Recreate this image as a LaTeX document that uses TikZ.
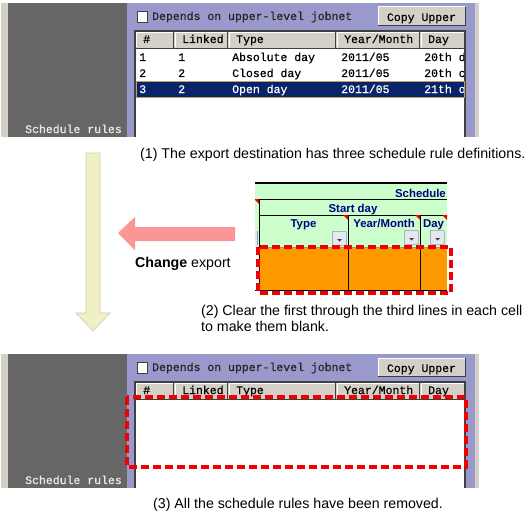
\documentclass[tikz,border=0pt]{standalone}
\usepackage{fontspec}
\setmainfont{Liberation Sans}
\newfontfamily\screenmono[FakeBold=0.6]{Liberation Mono}
\definecolor{panelgrey}{RGB}{102,102,102}
\definecolor{edgegrey}{RGB}{212,208,200}
\definecolor{panellilac}{RGB}{153,153,204}
\definecolor{headgrey}{RGB}{212,208,200}
\definecolor{shadowgrey}{RGB}{64,64,64}
\definecolor{selectnavy}{RGB}{10,36,106}
\definecolor{focusgold}{RGB}{190,160,100}
\definecolor{labelgrey}{RGB}{232,232,232}
\definecolor{sheetgreen}{RGB}{204,255,204}
\definecolor{sheetorange}{RGB}{255,153,0}
\definecolor{sheetblue}{RGB}{0,0,128}
\definecolor{buttonfill}{RGB}{228,232,240}
\definecolor{buttonedge}{RGB}{140,150,170}
\definecolor{markred}{RGB}{240,0,0}
\definecolor{exportpink}{RGB}{250,150,150}
\definecolor{flowyellow}{RGB}{240,240,196}
\definecolor{flowedge}{RGB}{205,205,180}

\begin{document}
\begin{tikzpicture}[
    x=1pt,
    y=-1pt,
    screen text/.style={
      font=\screenmono\fontsize{11.5}{13}\selectfont,
      anchor=base west,
      inner sep=0pt
    },
    caption text/.style={
      font=\fontsize{14.2}{16}\selectfont,
      anchor=base west,
      inner sep=0pt
    },
    sheet head/.style={
      font=\bfseries\fontsize{11.4}{13}\selectfont,
      text=sheetblue,
      anchor=base,
      inner sep=0pt
    },
    raised button/.style={
      rectangle,
      fill=headgrey,
      inner sep=0pt,
      minimum width=87pt,
      minimum height=18pt,
      anchor=north west
    },
    drop button/.style={
      rectangle,
      rounded corners=1pt,
      fill=buttonfill,
      draw=buttonedge,
      line width=0.6pt,
      inner sep=0pt,
      minimum width=14pt,
      minimum height=14pt,
      anchor=north west
    },
    red frame/.style={
      draw=markred,
      line width=3.5pt,
      dash pattern=on 8pt off 4pt
    }
]
\useasboundingbox (0,0) rectangle (529,516);
\fill[white] (0,0) rectangle (529,516);

% The two dialog captures share the same frame, header and controls.
\foreach \oy in {0,351}{
  \fill[edgegrey] (1,3+\oy) rectangle (479,137+\oy);
  \fill[panelgrey] (8,3+\oy) rectangle (127,137+\oy);
  \fill[panellilac] (127,3+\oy) rectangle (475,137+\oy);
  \node[screen text,text=labelgrey] (rules\oy) at (25,133+\oy) {Schedule rules};

  \draw[fill=white,draw=shadowgrey,line width=0.8pt]
    (137,11+\oy) rectangle (147,22+\oy);
  \node[screen text,text=black!85] (depends\oy) at (152,20+\oy)
    {Depends on upper-level jobnet};

  \node[raised button] (copy\oy) at (378,7+\oy) {};
  \draw[white,line width=1pt] (copy\oy.south west) |- (copy\oy.north east);
  \draw[shadowgrey,line width=1pt] (copy\oy.south west) -| (copy\oy.north east);
  \node[screen text,anchor=base] (copylab\oy) at (421.5,21+\oy) {Copy Upper};

  \fill[white] (135,48+\oy) rectangle (465,137+\oy);
  \foreach \l/\r/\lab in {
    135/174/{\#},
    174/228/{Linked},
    228/336/{Type},
    336/420/{Year/Month},
    420/465/{Day}}{
    \fill[headgrey] (\l,31+\oy) rectangle (\r,48+\oy);
    \draw[white,line width=0.8pt] (\l+1,47+\oy) -- (\l+1,32+\oy) -- (\r-1,32+\oy);
    \draw[shadowgrey,line width=0.8pt] (\r-0.5,31+\oy) -- (\r-0.5,48+\oy);
    \node[screen text] (head\l-\oy) at (\l+8,43+\oy) {\lab};
  }
  \draw[shadowgrey,line width=0.8pt] (135,48+\oy) -- (465,48+\oy);
  \draw[shadowgrey,line width=1.6pt]
    (135,137+\oy) -- (135,31+\oy) -- (465,31+\oy) -- (465,137+\oy);
}

% Rows defined at the export destination.
\fill[selectnavy] (136,81) rectangle (464,97);
\draw[focusgold,line width=0.6pt] (136,81) rectangle (464,97);
\begin{scope}
  \clip (135,48) rectangle (464,137);
  \foreach \y/\n/\lnk/\kind/\dy/\ink in {
    61/1/1/{Absolute day}/{20th d}/black,
    77/2/2/{Closed day}/{20th c}/black,
    93/3/2/{Open day}/{21th o}/white}{
    \node[screen text,text=\ink] (num\n) at (139,\y) {\n};
    \node[screen text,text=\ink] (link\n) at (178,\y) {\lnk};
    \node[screen text,text=\ink] (kind\n) at (232,\y) {\kind};
    \node[screen text,text=\ink] (month\n) at (341,\y) {2011/05};
    \node[screen text,text=\ink] (day\n) at (424,\y) {\dy};
  }
\end{scope}

\node[caption text] (cap1) at (140,158)
  {(1) The export destination has three schedule rule definitions.};

% Flow of the procedure.
\filldraw[fill=flowyellow,draw=flowedge,line width=0.6pt]
  (86,153) -- (100,153) -- (100,313) -- (110,313) -- (93,331)
  -- (76,313) -- (86,313) -- cycle;
\fill[exportpink]
  (118,233) -- (135,217) -- (135,227) -- (235,227) -- (235,241)
  -- (135,241) -- (135,250) -- cycle;
\node[caption text] (change) at (135,267) {\textbf{Change} export};

% Spreadsheet excerpt used for the export.
\begin{scope}
  \clip (255,181) rectangle (447,291);
  \fill[sheetgreen] (255,183) rectangle (447,247);
  \fill[sheetorange] (259,247) rectangle (447,290);
  \fill[buttonfill] (248,231) rectangle (257,245);
  \draw[buttonedge,line width=0.6pt] (257,231) -- (257,245);
  \draw[black,line width=2pt] (255,183) -- (447,183);
  \draw[black,line width=0.8pt] (255,199) -- (447,199);
  \draw[black,line width=0.8pt] (259,215) -- (447,215);
  \draw[buttonedge,line width=0.6pt] (259,247) -- (447,247);
  \draw[black,line width=0.8pt] (259,199) -- (259,290);
  \foreach \x in {348,420}
    \draw[black,line width=0.8pt] (\x,215) -- (\x,290);
  \draw[black,line width=0.8pt] (255,290) -- (447,290);
  \foreach \cx/\cy in {259/199,348/215,420/215,447/215}
    \fill[markred] (\cx-5,\cy) -- (\cx,\cy) -- (\cx,\cy+5) -- cycle;
\end{scope}
\node[sheet head,anchor=base east] (sched) at (446,197) {Schedule};
\node[sheet head] (start) at (353,212) {Start day};
\foreach \cx/\lab in {303.5/{Type},384/{Year/Month},433.5/{Day}}
  \node[sheet head] (sh\cx) at (\cx,227) {\lab};
\foreach \bx/\by in {332/231,404/230,430/230}{
  \node[drop button] (drop\bx) at (\bx,\by) {};
  \fill[shadowgrey] (\bx+5,\by+8) -- (\bx+10,\by+8) -- (\bx+7.5,\by+10.5) -- cycle;
}
\draw[red frame] (258,247) rectangle (451,293);

\node[caption text] (cap2a) at (201,315)
  {(2) Clear the first through the third lines in each cell};
\node[caption text] (cap2b) at (201,331) {to make them blank.};

% Result after the export.
\draw[red frame] (127,397) rectangle (466,467);
\node[caption text] (cap3) at (153,508)
  {(3) All the schedule rules have been removed.};

\end{tikzpicture}
\end{document}
